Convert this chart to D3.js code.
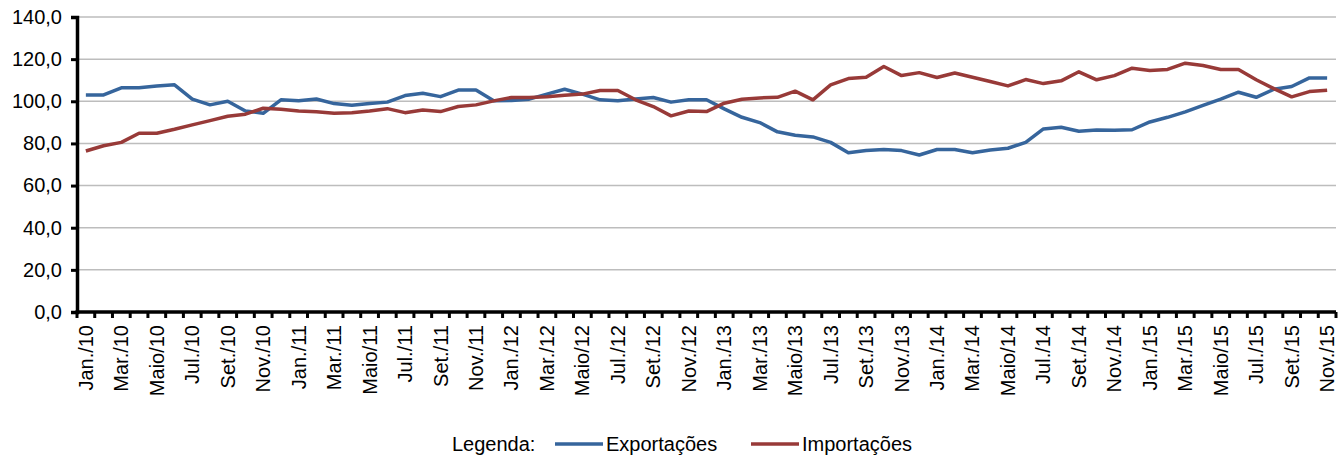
<!DOCTYPE html>
<html>
<head>
<meta charset="UTF-8">
<title>Exportações e Importações</title>
<script src="https://cdn.jsdelivr.net/npm/d3@7"></script>
<style>
  body { margin: 0; background: #fff; }
  text { font-family: Arial, "Liberation Sans", sans-serif; fill: #000; }
</style>
</head>
<body>
<svg width="1341" height="456"></svg>
<script>
var meses = ["Jan.", "Fev.", "Mar.", "Abr.", "Maio", "Jun.", "Jul.", "Ago.", "Set.", "Out.", "Nov.", "Dez."];
var anos = ["10", "11", "12", "13", "14", "15"];
var nMeses = 71; // Jan./10 .. Nov./15

var exportacoes = [
  103.0, 103.0, 106.4, 106.4, 107.2, 107.8, 101.0, 98.3, 100.0, 95.4, 94.3, 100.7,
  100.2, 101.1, 98.9, 98.1, 99.0, 99.6, 102.7, 103.8, 102.2, 105.3, 105.3, 100.2,
  100.4, 101.0, 103.4, 105.7, 103.4, 100.7, 100.2, 101.1, 101.8, 99.6, 100.7, 100.7,
  96.4, 92.4, 89.9, 85.5, 83.9, 83.1, 80.5, 75.6, 76.6, 77.1, 76.6, 74.5,
  77.1, 77.1, 75.6, 76.9, 77.7, 80.5, 86.9, 87.7, 85.8, 86.4, 86.2, 86.5,
  90.2, 92.4, 95.0, 98.1, 101.0, 104.3, 101.9, 105.7, 107.0, 111.1, 111.0
];
var importacoes = [
  76.4, 78.9, 80.5, 84.8, 84.8, 86.7, 88.8, 90.8, 92.9, 93.9, 96.7, 96.2,
  95.4, 95.0, 94.3, 94.6, 95.4, 96.5, 94.6, 95.9, 95.1, 97.5, 98.3, 100.2,
  101.8, 101.8, 102.1, 102.9, 103.4, 105.1, 105.1, 100.7, 97.5, 93.1, 95.4, 95.1,
  99.1, 101.0, 101.6, 101.9, 104.8, 100.7, 107.8, 110.8, 111.4, 116.5, 112.2, 113.6,
  111.3, 113.4, 111.4, 109.4, 107.3, 110.3, 108.4, 109.7, 114.0, 110.2, 112.2, 115.7,
  114.6, 115.1, 118.1, 117.0, 115.1, 115.1, 110.2, 106.0, 102.1, 104.6, 105.2
];
var yTicks = [0, 20, 40, 60, 80, 100, 120, 140];
var series = [
  { nome: "Exportações", valores: exportacoes, cor: "#36659c" },
  { nome: "Importações", valores: importacoes, cor: "#983a38" }
];

var categorias = [];
for (var i = 0; i < nMeses; i++) {
  categorias.push(meses[i % 12] + "/" + anos[Math.floor(i / 12)]);
}

var svg = d3.select("svg"),
    MARGINS = { top: 17, right: 5, bottom: 144, left: 77 },
    WIDTH = +svg.attr("width"),
    HEIGHT = +svg.attr("height"),
    FONT = 20;

var x = d3.scaleBand()
    .domain(categorias)
    .range([MARGINS.left, WIDTH - MARGINS.right]);
var y = d3.scaleLinear()
    .domain([0, 140])
    .range([HEIGHT - MARGINS.bottom, MARGINS.top]);

var fmt = function (d) { return d3.format(".1f")(d).replace(".", ","); };

// gridlines
svg.append("g")
    .selectAll("line")
    .data(yTicks.filter(function (d) { return d > 0; }))
    .enter().append("line")
    .attr("x1", MARGINS.left)
    .attr("x2", WIDTH - MARGINS.right)
    .attr("y1", function (d) { return y(d); })
    .attr("y2", function (d) { return y(d); })
    .attr("stroke", "#bdbdbd")
    .attr("stroke-width", 1.5);

// y axis
var yAxis = svg.append("g")
    .attr("transform", "translate(" + MARGINS.left + ",0)")
    .call(d3.axisLeft(y).tickValues(yTicks).tickFormat(fmt).tickSize(6).tickPadding(9));
yAxis.select(".domain").attr("stroke", "#000").attr("stroke-width", 3.5);
yAxis.selectAll(".tick line").attr("stroke", "#000").attr("stroke-width", 3);
yAxis.selectAll("text").attr("font-size", FONT).attr("font-family", "Arial, 'Liberation Sans', sans-serif");

// x axis: ticks at band edges, labels every two months
var xg = svg.append("g")
    .attr("transform", "translate(0," + y(0) + ")");
xg.append("line")
    .attr("x1", MARGINS.left - 1.5)
    .attr("x2", WIDTH - MARGINS.right)
    .attr("stroke", "#000")
    .attr("stroke-width", 3.5);
xg.selectAll(".tk")
    .data(categorias)
    .enter().append("line")
    .attr("class", "tk")
    .attr("x1", function (d) { return x(d) + x.bandwidth(); })
    .attr("x2", function (d) { return x(d) + x.bandwidth(); })
    .attr("y1", 0)
    .attr("y2", 6)
    .attr("stroke", "#000")
    .attr("stroke-width", 3);
xg.append("line")
    .attr("x1", MARGINS.left).attr("x2", MARGINS.left)
    .attr("y1", 0).attr("y2", 6)
    .attr("stroke", "#000").attr("stroke-width", 3);
xg.selectAll(".lbl")
    .data(categorias.filter(function (d, i) { return i % 2 === 0; }))
    .enter().append("text")
    .attr("class", "lbl")
    .attr("transform", function (d) {
        return "translate(" + (x(d) + x.bandwidth() / 2 + 7) + ",13) rotate(-90)";
    })
    .attr("text-anchor", "end")
    .attr("font-size", FONT)
    .text(function (d) { return d; });

// lines
var lineGen = d3.line()
    .x(function (d, i) { return x(categorias[i]) + x.bandwidth() / 2; })
    .y(function (d) { return y(d); });

svg.selectAll(".serie")
    .data(series)
    .enter().append("path")
    .attr("class", "serie")
    .attr("d", function (s) { return lineGen(s.valores); })
    .attr("fill", "none")
    .attr("stroke", function (s) { return s.cor; })
    .attr("stroke-width", 3.5)
    .attr("stroke-linejoin", "round");

// legend
var leg = svg.append("g").attr("transform", "translate(0,444)");
leg.append("text").attr("x", 452).attr("y", 7).attr("font-size", FONT).text("Legenda:");
var legX = [555, 751];
series.forEach(function (s, i) {
    leg.append("line")
        .attr("x1", legX[i]).attr("x2", legX[i] + 48)
        .attr("stroke", s.cor).attr("stroke-width", 3.5);
    leg.append("text")
        .attr("x", legX[i] + 51).attr("y", 7)
        .attr("font-size", FONT)
        .text(s.nome);
});
</script>
</body>
</html>
